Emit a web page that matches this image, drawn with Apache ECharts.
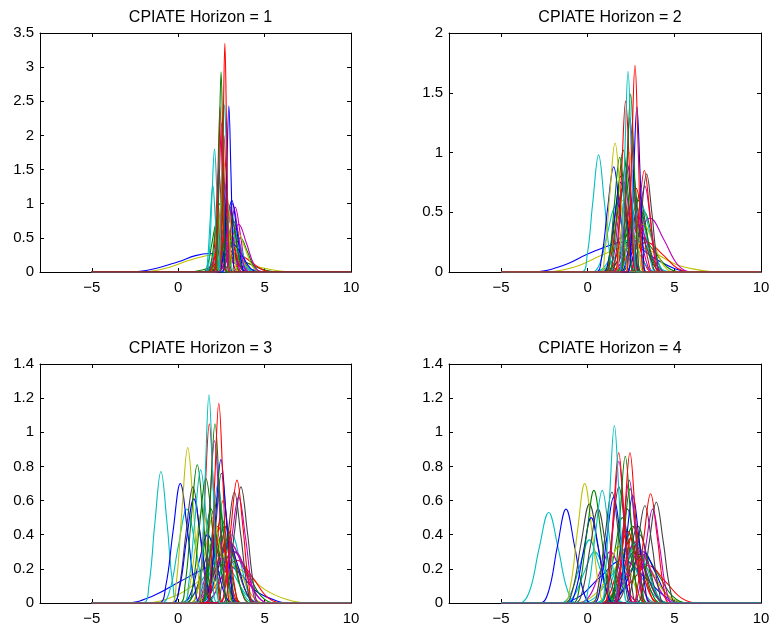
<!DOCTYPE html>
<html>
<head>
<meta charset="utf-8">
<script src="https://cdn.jsdelivr.net/npm/echarts@6/dist/echarts.min.js"></script>
<style>
html, body { margin: 0; padding: 0; background: #fff; }
#chart { width: 775px; height: 629px; }
</style>
</head>
<body>
<div id="chart"></div>
<script>
// density curves start at -5 and run flat to 10
const xStart = -5;
const xEnd = 10;
const xMin = -8;
const xTicks = [-5, 0, 5, 10];

const titles = ["CPIATE Horizon = 1", "CPIATE Horizon = 2", "CPIATE Horizon = 3", "CPIATE Horizon = 4"];
const yMax = [3.5, 2, 1.4, 1.4];
const yStep = [0.5, 0.5, 0.2, 0.2];

// matlab color letters, one per curve
const colorsH1 = ["b","y","g","r","c","r","g","c","m","y","k","b","r","g","c","m","y","r","r","m","y","c","k","c","r","b","m","g","g","r","k","g","m","b","y","g","r","c","y","c","m","r","c","b","g","r"];
const colorsH2 = ["b","y","g","r","c","g","k","m","r","c","b","y","g","k","m","r","c","m","y","k","c","g","c","m","b","b","r","m","k","r","c","b","g","k","g","y","y","m","b","r","g","c","r"];
const colorsH3 = ["b","y","g","r","c","g","r","c","m","y","k","b","g","r","c","m","y","m","k","c","b","g","r","y","c","c","b","y","k","b","g","c","g","g","k","b","k","k","m","r","m","g","r","r","c"];
const colorsH4 = ["b","y","g","r","c","g","r","c","m","k","b","y","g","r","c","m","k","m","k","c","y","g","r","c","b","c","y","k","b","g","k","c","k","b","k","g","b","m","m","r","g","r","k","r","m","k","c"];

// each curve: x,y pairs
const curvesH1 = [
	[-2.8,0, -1.5,0.04, 0,0.15, 1.0,0.24, 1.8,0.27, 2.6,0.22, 3.5,0.1, 4.5,0.02, 5.2,0],
	[-2.2,0, -0.8,0.05, 0.5,0.16, 1.5,0.23, 2.3,0.26, 3.2,0.22, 4.3,0.1, 5.5,0.03, 6.8,0],
	[0.5,0, 1.4,0.03, 2.3,0.12, 3.2,0.2, 4.1,0.12, 5.0,0.03, 5.9,0],
	[1.4,0, 2.1,0.03, 2.8,0.15, 3.5,0.25, 4.2,0.15, 4.9,0.03, 5.6,0],
	[1.2,0, 1.8,0.04, 2.4,0.18, 3.0,0.3, 3.6,0.18, 4.2,0.04, 4.8,0],
	[2.25,0, 2.6,0.07, 2.95,0.33, 3.3,0.55, 3.65,0.33, 4.0,0.07, 4.35,0],
	[2.4,0, 2.8,0.07, 3.2,0.3, 3.6,0.5, 4.0,0.3, 4.4,0.07, 4.8,0],
	[2.1,0, 2.4,0.1, 2.7,0.46, 3.0,0.75, 3.3,0.46, 3.6,0.1, 3.9,0],
	[2.06,0, 2.34,0.11, 2.62,0.52, 2.9,0.85, 3.18,0.52, 3.46,0.11, 3.74,0],
	[1.75,0, 2.0,0.12, 2.25,0.55, 2.5,0.9, 2.75,0.55, 3.0,0.12, 3.25,0],
	[2.3,0, 2.6,0.1, 2.9,0.46, 3.2,0.75, 3.5,0.46, 3.8,0.1, 4.1,0],
	[2.0,0, 2.2,0.16, 2.4,0.73, 2.6,1.2, 2.8,0.73, 3.0,0.16, 3.2,0],
	[1.9,0, 2.05,0.2, 2.2,0.91, 2.35,1.5, 2.5,0.91, 2.65,0.2, 2.8,0],
	[2.19,0, 2.36,0.18, 2.53,0.79, 2.7,1.3, 2.87,0.79, 3.04,0.18, 3.21,0],
	[1.55,0, 1.85,0.08, 2.15,0.36, 2.45,0.6, 2.75,0.36, 3.05,0.08, 3.35,0],
	[2.46,0, 2.74,0.13, 3.02,0.58, 3.3,0.95, 3.58,0.58, 3.86,0.13, 4.14,0],
	[1.5,0, 2.0,0.06, 2.5,0.27, 3.0,0.45, 3.5,0.27, 4.0,0.06, 4.5,0],
	[2.15,0, 2.4,0.14, 2.65,0.6, 2.9,1.0, 3.15,0.6, 3.4,0.14, 3.65,0],
	[2.26,0, 2.39,0.27, 2.52,1.21, 2.65,2.0, 2.78,1.21, 2.91,0.27, 3.04,0],
	[2.15,0, 2.6,0.1, 3.05,0.42, 3.5,0.7, 3.95,0.42, 4.4,0.1, 4.85,0],
	[2.05,0, 2.5,0.08, 2.95,0.36, 3.4,0.6, 3.85,0.36, 4.3,0.08, 4.75,0],
	[2.0,0, 2.4,0.09, 2.8,0.38, 3.2,0.62, 3.6,0.38, 4.0,0.09, 4.4,0],
	[1.6,0, 2.0,0.07, 2.4,0.3, 2.8,0.5, 3.2,0.3, 3.6,0.07, 4.0,0],
	[1.4,0, 1.9,0.07, 2.4,0.3, 2.9,0.5, 3.4,0.3, 3.9,0.07, 4.4,0],
	[1.85,0, 2.2,0.08, 2.55,0.36, 2.9,0.6, 3.25,0.36, 3.6,0.08, 3.95,0],
	[1.7,0, 2.2,0.05, 2.7,0.24, 3.2,0.4, 3.7,0.24, 4.2,0.05, 4.7,0],
	[1.35,0, 1.8,0.06, 2.25,0.27, 2.7,0.45, 3.15,0.27, 3.6,0.06, 4.05,0],
	[1.85,0, 2.15,0.1, 2.45,0.46, 2.75,0.75, 3.05,0.46, 3.35,0.1, 3.65,0],
	[1.45,0, 1.7,0.1, 1.95,0.42, 2.2,0.7, 2.45,0.42, 2.7,0.1, 2.95,0],
	[1.7,0, 2.0,0.11, 2.3,0.49, 2.6,0.8, 2.9,0.49, 3.2,0.11, 3.5,0],
	[2.1,0, 2.4,0.13, 2.7,0.55, 3.0,0.9, 3.3,0.55, 3.6,0.13, 3.9,0],
	[2.1,0, 2.4,0.13, 2.7,0.58, 3.0,0.95, 3.3,0.58, 3.6,0.13, 3.9,0],
	[2.25,0, 2.55,0.14, 2.85,0.6, 3.15,1.0, 3.45,0.6, 3.75,0.14, 4.05,0],
	[2.26,0, 2.54,0.15, 2.82,0.64, 3.1,1.05, 3.38,0.64, 3.66,0.15, 3.94,0],
	[2.05,0, 2.3,0.15, 2.55,0.67, 2.8,1.1, 3.05,0.67, 3.3,0.15, 3.55,0],
	[1.65,0, 1.9,0.14, 2.15,0.6, 2.4,1.0, 2.65,0.6, 2.9,0.14, 3.15,0],
	[2.13,0, 2.27,0.18, 2.41,0.79, 2.55,1.3, 2.69,0.79, 2.83,0.18, 2.97,0],
	[1.55,0, 1.7,0.18, 1.85,0.77, 2.0,1.27, 2.15,0.77, 2.3,0.18, 2.45,0],
	[2.05,0, 2.25,0.22, 2.45,0.97, 2.65,1.6, 2.85,0.97, 3.05,0.22, 3.25,0],
	[1.65,0, 1.8,0.25, 1.95,1.09, 2.1,1.8, 2.25,1.09, 2.4,0.25, 2.55,0],
	[2.07,0, 2.22,0.3, 2.37,1.32, 2.52,2.18, 2.67,1.32, 2.82,0.3, 2.97,0],
	[2.06,0, 2.18,0.33, 2.3,1.47, 2.42,2.42, 2.54,1.47, 2.66,0.33, 2.78,0],
	[2.29,0, 2.42,0.34, 2.55,1.49, 2.68,2.45, 2.81,1.49, 2.94,0.34, 3.07,0],
	[2.57,0, 2.69,0.33, 2.81,1.47, 2.93,2.43, 3.05,1.47, 3.17,0.33, 3.29,0],
	[2.15,0, 2.26,0.4, 2.37,1.78, 2.48,2.93, 2.59,1.78, 2.7,0.4, 2.81,0],
	[2.4,0, 2.5,0.45, 2.6,2.03, 2.7,3.35, 2.8,2.03, 2.9,0.45, 3.0,0]
];

const curvesH2 = [
	[-3.2,0, -1.5,0.05, 0,0.15, 1.2,0.22, 2.0,0.25, 2.8,0.22, 3.8,0.12, 5,0.03, 6,0],
	[-2.5,0, -0.8,0.04, 0.8,0.14, 2.0,0.21, 2.7,0.22, 3.6,0.18, 5,0.07, 6.3,0.02, 7.5,0],
	[0.6,0, 1.4,0.04, 2.2,0.18, 3.0,0.3, 3.8,0.18, 4.6,0.04, 5.4,0],
	[0.7,0, 1.6,0.03, 2.5,0.15, 3.4,0.25, 4.3,0.15, 5.2,0.03, 6.1,0],
	[0.35,0, 1.1,0.04, 1.85,0.18, 2.6,0.3, 3.35,0.18, 4.1,0.04, 4.85,0],
	[1.76,0, 2.04,0.11, 2.32,0.52, 2.6,0.85, 2.88,0.52, 3.16,0.11, 3.44,0],
	[1.0,0, 1.3,0.11, 1.6,0.49, 1.9,0.8, 2.2,0.49, 2.5,0.11, 2.8,0],
	[1.14,0, 1.46,0.1, 1.78,0.46, 2.1,0.75, 2.42,0.46, 2.74,0.1, 3.06,0],
	[1.75,0, 2.1,0.09, 2.45,0.42, 2.8,0.7, 3.15,0.42, 3.5,0.09, 3.85,0],
	[1.9,0, 2.25,0.08, 2.6,0.36, 2.95,0.6, 3.3,0.36, 3.65,0.08, 4.0,0],
	[1.55,0, 1.8,0.12, 2.05,0.55, 2.3,0.9, 2.55,0.55, 2.8,0.12, 3.05,0],
	[0.8,0, 1.2,0.08, 1.6,0.36, 2.0,0.6, 2.4,0.36, 2.8,0.08, 3.2,0],
	[2.1,0, 2.5,0.07, 2.9,0.3, 3.3,0.5, 3.7,0.3, 4.1,0.07, 4.5,0],
	[1.95,0, 2.3,0.09, 2.65,0.39, 3.0,0.65, 3.35,0.39, 3.7,0.09, 4.05,0],
	[1.25,0, 1.8,0.05, 2.35,0.24, 2.9,0.4, 3.45,0.24, 4.0,0.05, 4.55,0],
	[1.05,0, 1.5,0.07, 1.95,0.3, 2.4,0.5, 2.85,0.3, 3.3,0.07, 3.75,0],
	[0.4,0, 1.0,0.05, 1.6,0.21, 2.2,0.35, 2.8,0.21, 3.4,0.05, 4.0,0],
	[1.2,0, 2.0,0.06, 2.8,0.27, 3.6,0.45, 4.4,0.27, 5.2,0.06, 6.0,0],
	[1.4,0, 2.0,0.05, 2.6,0.24, 3.2,0.4, 3.8,0.24, 4.4,0.05, 5.0,0],
	[1.05,0, 1.6,0.06, 2.15,0.27, 2.7,0.45, 3.25,0.27, 3.8,0.06, 4.35,0],
	[1.6,0, 2.1,0.07, 2.6,0.33, 3.1,0.55, 3.6,0.33, 4.1,0.07, 4.6,0],
	[1.55,0, 2.0,0.08, 2.45,0.36, 2.9,0.6, 3.35,0.36, 3.8,0.08, 4.25,0],
	[0.25,0, 0.7,0.07, 1.15,0.33, 1.6,0.55, 2.05,0.33, 2.5,0.07, 2.95,0],
	[1.4,0, 1.8,0.08, 2.2,0.36, 2.6,0.6, 3.0,0.36, 3.4,0.08, 3.8,0],
	[1.9,0, 2.1,0.03, 2.3,0.15, 2.5,0.24, 2.7,0.15, 2.9,0.03, 3.1,0],
	[0.85,0, 1.2,0.1, 1.55,0.46, 1.9,0.75, 2.25,0.46, 2.6,0.1, 2.95,0],
	[0.95,0, 1.3,0.1, 1.65,0.42, 2.0,0.7, 2.35,0.42, 2.7,0.1, 3.05,0],
	[2.34,0, 2.66,0.1, 2.98,0.44, 3.3,0.72, 3.62,0.44, 3.94,0.1, 4.26,0],
	[2.5,0, 2.8,0.11, 3.1,0.5, 3.4,0.82, 3.7,0.5, 4.0,0.11, 4.3,0],
	[2.37,0, 2.67,0.11, 2.97,0.52, 3.27,0.85, 3.57,0.52, 3.87,0.11, 4.17,0],
	[-0.37,0, -0.03,0.14, 0.3,0.59, 0.63,0.98, 0.96,0.59, 1.29,0.14, 1.62,0],
	[0.45,0, 0.8,0.12, 1.15,0.53, 1.5,0.88, 1.85,0.53, 2.2,0.12, 2.55,0],
	[0.95,0, 1.25,0.13, 1.55,0.58, 1.85,0.96, 2.15,0.58, 2.45,0.13, 2.75,0],
	[1.3,0, 1.6,0.12, 1.9,0.55, 2.2,0.9, 2.5,0.55, 2.8,0.12, 3.1,0],
	[1.15,0, 1.45,0.14, 1.75,0.62, 2.05,1.02, 2.35,0.62, 2.65,0.14, 2.95,0],
	[1.5,0, 1.8,0.14, 2.1,0.6, 2.4,1.0, 2.7,0.6, 3.0,0.14, 3.3,0],
	[0.68,0, 0.98,0.15, 1.28,0.66, 1.58,1.08, 1.88,0.66, 2.18,0.15, 2.48,0],
	[1.78,0, 2.0,0.17, 2.22,0.78, 2.44,1.29, 2.66,0.78, 2.88,0.17, 3.1,0],
	[2.3,0, 2.48,0.19, 2.66,0.84, 2.84,1.38, 3.02,0.84, 3.2,0.19, 3.38,0],
	[1.53,0, 1.75,0.2, 1.97,0.87, 2.19,1.43, 2.41,0.87, 2.63,0.2, 2.85,0],
	[1.88,0, 2.08,0.2, 2.28,0.9, 2.48,1.49, 2.68,0.9, 2.88,0.2, 3.08,0],
	[1.79,0, 1.97,0.23, 2.15,1.02, 2.33,1.68, 2.51,1.02, 2.69,0.23, 2.87,0],
	[2.19,0, 2.37,0.23, 2.55,1.05, 2.73,1.73, 2.91,1.05, 3.09,0.23, 3.27,0]
];

const curvesH3 = [
	[-3,0, -1.5,0.04, 0,0.12, 1.5,0.2, 2.5,0.24, 3.5,0.18, 4.5,0.07, 5.5,0.02, 6.3,0],
	[-2,0, 0,0.05, 1.5,0.15, 2.7,0.22, 3.7,0.19, 5,0.08, 6.3,0.02, 7.5,0],
	[0.8,0, 1.6,0.04, 2.4,0.18, 3.2,0.3, 4.0,0.18, 4.8,0.04, 5.6,0],
	[0.7,0, 1.6,0.03, 2.5,0.15, 3.4,0.25, 4.3,0.15, 5.2,0.03, 6.1,0],
	[0,0, 0.8,0.04, 1.6,0.17, 2.4,0.28, 3.2,0.17, 4.0,0.04, 4.8,0],
	[1.3,0, 1.7,0.07, 2.1,0.3, 2.5,0.5, 2.9,0.3, 3.3,0.07, 3.7,0],
	[1.45,0, 1.9,0.06, 2.35,0.27, 2.8,0.45, 3.25,0.27, 3.7,0.06, 4.15,0],
	[1.6,0, 2.1,0.05, 2.6,0.24, 3.1,0.4, 3.6,0.24, 4.1,0.05, 4.6,0],
	[0.85,0, 1.3,0.06, 1.75,0.25, 2.2,0.42, 2.65,0.25, 3.1,0.06, 3.55,0],
	[0.8,0, 1.5,0.04, 2.2,0.18, 2.9,0.3, 3.6,0.18, 4.3,0.04, 5.0,0],
	[0.35,0, 0.9,0.05, 1.45,0.21, 2.0,0.35, 2.55,0.21, 3.1,0.05, 3.65,0],
	[1.25,0, 1.8,0.05, 2.35,0.22, 2.9,0.36, 3.45,0.22, 4.0,0.05, 4.55,0],
	[0.7,0, 1.1,0.07, 1.5,0.33, 1.9,0.55, 2.3,0.33, 2.7,0.07, 3.1,0],
	[1.55,0, 1.9,0.08, 2.25,0.36, 2.6,0.6, 2.95,0.36, 3.3,0.08, 3.65,0],
	[1.34,0, 1.66,0.09, 1.98,0.42, 2.3,0.7, 2.62,0.42, 2.94,0.09, 3.26,0],
	[1.35,0, 2.0,0.04, 2.65,0.18, 3.3,0.3, 3.95,0.18, 4.6,0.04, 5.25,0],
	[0.2,0, 0.6,0.07, 1.0,0.33, 1.4,0.55, 1.8,0.33, 2.2,0.07, 2.6,0],
	[0.75,0, 1.5,0.05, 2.25,0.21, 3.0,0.35, 3.75,0.21, 4.5,0.05, 5.25,0],
	[1.0,0, 1.6,0.05, 2.2,0.21, 2.8,0.35, 3.4,0.21, 4.0,0.05, 4.6,0],
	[0.8,0, 1.4,0.05, 2.0,0.23, 2.6,0.38, 3.2,0.23, 3.8,0.05, 4.4,0],
	[0.2,0, 0.7,0.05, 1.2,0.24, 1.7,0.4, 2.2,0.24, 2.7,0.05, 3.2,0],
	[1.2,0, 1.7,0.06, 2.2,0.27, 2.7,0.45, 3.2,0.27, 3.7,0.06, 4.2,0],
	[0.95,0, 1.4,0.06, 1.85,0.27, 2.3,0.45, 2.75,0.27, 3.2,0.06, 3.65,0],
	[0.65,0, 1.1,0.07, 1.55,0.3, 2.0,0.5, 2.45,0.3, 2.9,0.07, 3.35,0],
	[-1.0,0, -0.5,0.07, 0,0.33, 0.5,0.55, 1.0,0.33, 1.5,0.07, 2.0,0],
	[-2.05,0, -1.7,0.1, -1.35,0.47, -1.0,0.77, -0.65,0.47, -0.3,0.1, 0.05,0],
	[-1.14,0, -0.72,0.1, -0.3,0.42, 0.12,0.7, 0.54,0.42, 0.96,0.1, 1.38,0],
	[-0.44,0, -0.11,0.12, 0.22,0.55, 0.55,0.91, 0.88,0.55, 1.21,0.12, 1.54,0],
	[-0.35,0, 0.05,0.09, 0.45,0.41, 0.85,0.68, 1.25,0.41, 1.65,0.09, 2.05,0],
	[-0.36,0, 0.06,0.08, 0.48,0.37, 0.9,0.61, 1.32,0.37, 1.74,0.08, 2.16,0],
	[0.05,0, 0.4,0.11, 0.75,0.49, 1.1,0.81, 1.45,0.49, 1.8,0.11, 2.15,0],
	[0.25,0, 0.6,0.11, 0.95,0.47, 1.3,0.78, 1.65,0.47, 2.0,0.11, 2.35,0],
	[0.46,0, 0.84,0.1, 1.22,0.44, 1.6,0.73, 1.98,0.44, 2.36,0.1, 2.74,0],
	[1.25,0, 1.6,0.09, 1.95,0.38, 2.3,0.63, 2.65,0.38, 3.0,0.09, 3.35,0],
	[1.54,0, 1.86,0.1, 2.18,0.46, 2.5,0.76, 2.82,0.46, 3.14,0.1, 3.46,0],
	[1.57,0, 1.87,0.11, 2.17,0.51, 2.47,0.84, 2.77,0.51, 3.07,0.11, 3.37,0],
	[2.11,0, 2.49,0.09, 2.87,0.39, 3.25,0.65, 3.63,0.39, 4.01,0.09, 4.39,0],
	[2.49,0, 2.87,0.09, 3.25,0.41, 3.63,0.68, 4.01,0.41, 4.39,0.09, 4.77,0],
	[2.3,0, 2.7,0.08, 3.1,0.38, 3.5,0.62, 3.9,0.38, 4.3,0.08, 4.7,0],
	[2.35,0, 2.7,0.1, 3.05,0.44, 3.4,0.72, 3.75,0.44, 4.1,0.1, 4.45,0],
	[1.29,0, 1.56,0.13, 1.83,0.58, 2.1,0.95, 2.37,0.58, 2.64,0.13, 2.91,0],
	[1.35,0, 1.61,0.14, 1.87,0.64, 2.13,1.05, 2.39,0.64, 2.65,0.14, 2.91,0],
	[1.05,0, 1.3,0.14, 1.55,0.64, 1.8,1.05, 2.05,0.64, 2.3,0.14, 2.55,0],
	[1.63,0, 1.87,0.16, 2.11,0.71, 2.35,1.17, 2.59,0.71, 2.83,0.16, 3.07,0],
	[1.12,0, 1.34,0.16, 1.56,0.74, 1.78,1.22, 2.0,0.74, 2.22,0.16, 2.44,0]
];

const curvesH4 = [
	[-1.9,0, -0.6,0.03, 0.7,0.15, 2.0,0.25, 3.3,0.15, 4.6,0.03, 5.9,0],
	[-0.8,0, 0.3,0.04, 1.4,0.18, 2.5,0.3, 3.6,0.18, 4.7,0.04, 5.8,0],
	[0.65,0, 1.5,0.04, 2.35,0.17, 3.2,0.28, 4.05,0.17, 4.9,0.04, 5.75,0],
	[0.65,0, 1.6,0.03, 2.55,0.13, 3.5,0.22, 4.45,0.13, 5.4,0.03, 6.35,0],
	[-0.5,0, 0.4,0.03, 1.3,0.15, 2.2,0.25, 3.1,0.15, 4.0,0.03, 4.9,0],
	[1.4,0, 1.9,0.06, 2.4,0.27, 2.9,0.45, 3.4,0.27, 3.9,0.06, 4.4,0],
	[0.85,0, 1.4,0.05, 1.95,0.23, 2.5,0.38, 3.05,0.23, 3.6,0.05, 4.15,0],
	[0.4,0, 1.0,0.04, 1.6,0.19, 2.2,0.32, 2.8,0.19, 3.4,0.04, 4.0,0],
	[0.9,0, 1.5,0.05, 2.1,0.21, 2.7,0.35, 3.3,0.21, 3.9,0.05, 4.5,0],
	[1.5,0, 2.0,0.05, 2.5,0.24, 3.0,0.4, 3.5,0.24, 4.0,0.05, 4.5,0],
	[1.1,0, 1.8,0.04, 2.5,0.18, 3.2,0.3, 3.9,0.18, 4.6,0.04, 5.3,0],
	[0.6,0, 1.4,0.04, 2.2,0.17, 3.0,0.28, 3.8,0.17, 4.6,0.04, 5.4,0],
	[0.65,0, 1.1,0.07, 1.55,0.3, 2.0,0.5, 2.45,0.3, 2.9,0.07, 3.35,0],
	[1.35,0, 1.8,0.06, 2.25,0.27, 2.7,0.45, 3.15,0.27, 3.6,0.06, 4.05,0],
	[-1.4,0, -0.8,0.04, -0.2,0.18, 0.4,0.3, 1.0,0.18, 1.6,0.04, 2.2,0],
	[-0.5,0, 0.1,0.04, 0.7,0.18, 1.3,0.3, 1.9,0.18, 2.5,0.04, 3.1,0],
	[1.1,0, 1.5,0.07, 1.9,0.33, 2.3,0.55, 2.7,0.33, 3.1,0.07, 3.5,0],
	[0.9,0, 1.6,0.04, 2.3,0.18, 3.0,0.3, 3.7,0.18, 4.4,0.04, 5.1,0],
	[0.75,0, 1.4,0.04, 2.05,0.18, 2.7,0.3, 3.35,0.18, 4.0,0.04, 4.65,0],
	[1.0,0, 1.6,0.05, 2.2,0.21, 2.8,0.35, 3.4,0.21, 4.0,0.05, 4.6,0],
	[0,0, 0.6,0.04, 1.2,0.2, 1.8,0.33, 2.4,0.2, 3.0,0.04, 3.6,0],
	[0.95,0, 1.5,0.06, 2.05,0.27, 2.6,0.45, 3.15,0.27, 3.7,0.06, 4.25,0],
	[0.8,0, 1.3,0.06, 1.8,0.25, 2.3,0.42, 2.8,0.25, 3.3,0.06, 3.8,0],
	[-3.9,0, -3.35,0.07, -2.8,0.32, -2.25,0.53, -1.7,0.32, -1.15,0.07, -0.6,0],
	[-2.75,0, -2.25,0.07, -1.75,0.33, -1.25,0.55, -0.75,0.33, -0.25,0.07, 0.25,0],
	[-1.55,0, -1.0,0.05, -0.45,0.22, 0.1,0.37, 0.65,0.22, 1.2,0.05, 1.75,0],
	[-1.43,0, -1.01,0.09, -0.59,0.42, -0.17,0.7, 0.25,0.42, 0.67,0.09, 1.09,0],
	[-1.34,0, -0.86,0.08, -0.38,0.35, 0.1,0.58, 0.58,0.35, 1.06,0.08, 1.54,0],
	[-1.15,0, -0.7,0.07, -0.25,0.3, 0.2,0.5, 0.65,0.3, 1.1,0.07, 1.55,0],
	[-0.9,0, -0.48,0.09, -0.06,0.4, 0.36,0.66, 0.78,0.4, 1.2,0.09, 1.62,0],
	[-0.75,0, -0.3,0.07, 0.15,0.33, 0.6,0.55, 1.05,0.33, 1.5,0.07, 1.95,0],
	[-0.36,0, 0.04,0.09, 0.44,0.4, 0.84,0.66, 1.24,0.4, 1.64,0.09, 2.04,0],
	[0.2,0, 0.6,0.09, 1.0,0.39, 1.4,0.65, 1.8,0.39, 2.2,0.09, 2.6,0],
	[0.3,0, 0.7,0.08, 1.1,0.38, 1.5,0.62, 1.9,0.38, 2.3,0.08, 2.7,0],
	[0.66,0, 1.04,0.09, 1.42,0.41, 1.8,0.68, 2.18,0.41, 2.56,0.09, 2.94,0],
	[1.4,0, 1.75,0.09, 2.1,0.41, 2.45,0.67, 2.8,0.41, 3.15,0.09, 3.5,0],
	[1.52,0, 1.88,0.09, 2.24,0.38, 2.6,0.63, 2.96,0.38, 3.32,0.09, 3.68,0],
	[1.41,0, 1.74,0.1, 2.07,0.44, 2.4,0.72, 2.73,0.44, 3.06,0.1, 3.39,0],
	[0.9,0, 1.2,0.11, 1.5,0.5, 1.8,0.83, 2.1,0.5, 2.4,0.11, 2.7,0],
	[0.89,0, 1.19,0.12, 1.49,0.53, 1.79,0.88, 2.09,0.53, 2.39,0.12, 2.69,0],
	[1.27,0, 1.57,0.12, 1.87,0.52, 2.17,0.86, 2.47,0.52, 2.77,0.12, 3.07,0],
	[1.54,0, 1.84,0.12, 2.14,0.53, 2.44,0.88, 2.74,0.53, 3.04,0.12, 3.34,0],
	[2.1,0, 2.5,0.08, 2.9,0.35, 3.3,0.57, 3.7,0.35, 4.1,0.08, 4.5,0],
	[2.49,0, 2.87,0.09, 3.25,0.39, 3.63,0.64, 4.01,0.39, 4.39,0.09, 4.77,0],
	[2.55,0, 2.95,0.07, 3.35,0.33, 3.75,0.55, 4.15,0.33, 4.55,0.07, 4.95,0],
	[2.76,0, 3.16,0.08, 3.56,0.36, 3.96,0.59, 4.36,0.36, 4.76,0.08, 5.16,0],
	[0.73,0, 1.0,0.14, 1.27,0.63, 1.54,1.04, 1.81,0.63, 2.08,0.14, 2.35,0]
];

const matlabColors = {
	b: "#0000ff",
	g: "#008000",
	r: "#ff0000",
	c: "#00bfbf",
	m: "#bf00bf",
	y: "#bfbf00",
	k: "#404040",
};

const panelCurves = [curvesH1, curvesH2, curvesH3, curvesH4];
const panelColors = [colorsH1, colorsH2, colorsH3, colorsH4];

const font = "'Liberation Sans', Arial, Helvetica, sans-serif";
const grids = [
	{ left: 40, top: 33, width: 311, height: 239 },
	{ left: 449, top: 33, width: 312, height: 239 },
	{ left: 40, top: 364, width: 311, height: 239 },
	{ left: 449, top: 364, width: 312, height: 239 },
];

const lineStyle = { color: "#000", width: 1 };

function buildSeries(p) {
	const curves = panelCurves[p];
	const colors = panelColors[p];
	return curves.map((pts, i) => {
		const data = [[xStart, 0]];
		for (let k = 0; k < pts.length; k += 2) {
			data.push([pts[k], pts[k + 1]]);
		}
		data.push([xEnd, 0]);
		return {
			type: "line",
			xAxisIndex: p * 2,
			yAxisIndex: p * 2,
			data: data,
			smooth: 0.4,
			showSymbol: false,
			silent: true,
			lineStyle: { width: 1.1, color: matlabColors[colors[i]] },
		};
	});
}

const xAxes = [];
const yAxes = [];
const titleList = [];
let series = [];

for (let p = 0; p < 4; p++) {
	const g = grids[p];
	["bottom", "top"].forEach((pos) => {
		xAxes.push({
			type: "value",
			gridIndex: p,
			position: pos,
			min: xMin,
			max: xEnd,
			axisLine: { show: true, onZero: false, lineStyle: lineStyle },
			axisTick: { show: true, inside: true, length: 4, customValues: xTicks, lineStyle: lineStyle },
			axisLabel: {
				show: pos === "bottom",
				customValues: xTicks,
				color: "#000",
				fontSize: 15,
				fontFamily: font,
				margin: 8,
				formatter: (v) => String(v).replace("-", "\u2212"),
			},
			splitLine: { show: false },
		});
	});
	["left", "right"].forEach((pos) => {
		yAxes.push({
			type: "value",
			gridIndex: p,
			position: pos,
			min: 0,
			max: yMax[p],
			interval: yStep[p],
			axisLine: { show: true, onZero: false, lineStyle: lineStyle },
			axisTick: { show: true, inside: true, length: 4, lineStyle: lineStyle },
			axisLabel: {
				show: pos === "left",
				color: "#000",
				fontSize: 15,
				fontFamily: font,
				margin: 6,
			},
			splitLine: { show: false },
		});
	});
	titleList.push({
		text: titles[p],
		left: g.left + g.width / 2,
		top: g.top - 28,
		textAlign: "center",
		textStyle: { fontSize: 16, fontWeight: "normal", color: "#000", fontFamily: font },
	});
	series = series.concat(buildSeries(p));
}

const chart = echarts.init(document.getElementById("chart"), null, { renderer: "canvas" });
chart.setOption({
	animation: false,
	backgroundColor: "#fff",
	title: titleList,
	grid: grids,
	xAxis: xAxes,
	yAxis: yAxes,
	series: series,
});
</script>
</body>
</html>
